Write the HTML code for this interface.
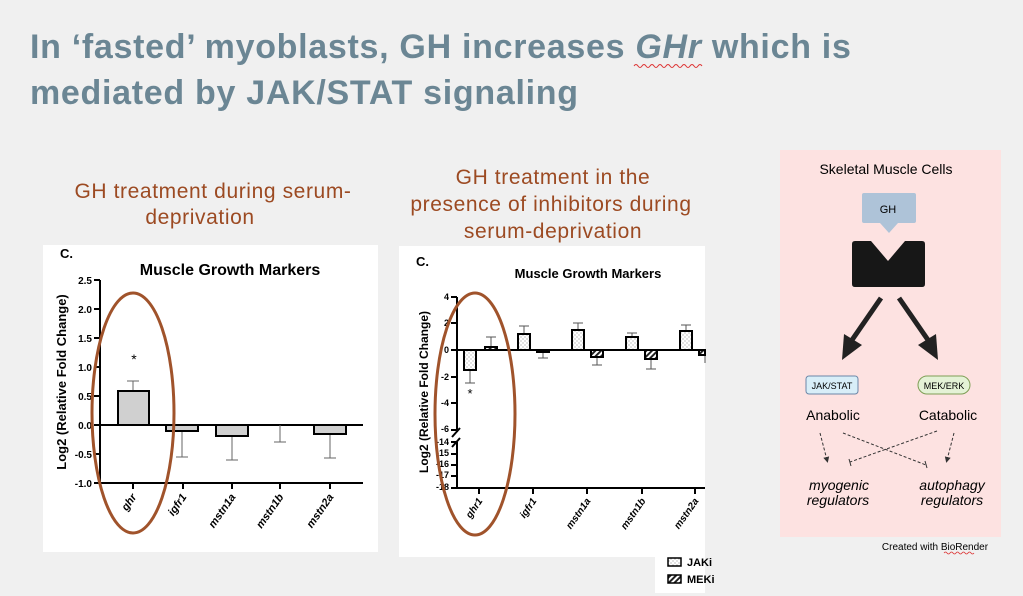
<!DOCTYPE html>
<html><head><meta charset="utf-8"><style>
html,body{margin:0;padding:0;background:#f0f0f0;}
svg{display:block;font-family:"Liberation Sans",Arial,sans-serif;}
</style></head><body>
<svg width="1023" height="596" viewBox="0 0 1023 596" xmlns="http://www.w3.org/2000/svg">
<defs>
<pattern id="dots" width="4" height="4" patternUnits="userSpaceOnUse"><rect width="4" height="4" fill="#fff"/><circle cx="1" cy="1" r="0.6" fill="#999"/><circle cx="3" cy="3" r="0.6" fill="#999"/></pattern>
<pattern id="hatch" width="4" height="4" patternUnits="userSpaceOnUse" patternTransform="rotate(45)"><rect width="4" height="4" fill="#fff"/><rect width="2" height="4" fill="#222"/></pattern>
<marker id="ah" markerWidth="6" markerHeight="6" refX="3" refY="3" orient="auto"><path d="M0,0 L6,3 L0,6 z" fill="#333"/></marker>
</defs>
<rect width="1023" height="596" fill="#f0f0f0"/>
<g fill="#6b8694" font-weight="bold" font-size="34" letter-spacing="0.7">
<text x="30" y="58">In ‘fasted’ myoblasts, GH increases <tspan font-style="italic">GHr</tspan> which is</text>
<text x="30" y="104">mediated by JAK/STAT signaling</text>
</g>
<path d="M634,66 q2,-3 4,0 t4,0 t4,0 t4,0 t4,0 t4,0 t4,0 t4,0 t4,0 t4,0 t4,0 t4,0 t4,0 t4,0 t4,0 t4,0 t4,0" stroke="#d33" fill="none" stroke-width="1"/>
<g fill="#9c4a22" font-size="21" letter-spacing="0.6" text-anchor="middle">
<text x="213" y="198">GH treatment during serum-</text>
<text x="200" y="224">deprivation</text>
<text x="553" y="184">GH treatment in the</text>
<text x="551" y="211">presence of inhibitors during</text>
<text x="553" y="238">serum-deprivation</text>
</g>
<!-- Chart 1 -->
<rect x="43" y="245" width="335" height="307" fill="#fff"/>
<text x="60" y="258" font-size="13" font-weight="bold">C.</text>
<text x="230" y="275" font-size="16" font-weight="bold" text-anchor="middle">Muscle Growth Markers</text>
<g stroke="#000" stroke-width="2">
<line x1="100" y1="280" x2="100" y2="484"/>
<line x1="100" y1="483" x2="363" y2="483"/>
<line x1="100" y1="425" x2="363" y2="425"/>
<line x1="94" y1="280" x2="100" y2="280"/><line x1="94" y1="309" x2="100" y2="309"/><line x1="94" y1="338" x2="100" y2="338"/><line x1="94" y1="367" x2="100" y2="367"/><line x1="94" y1="396" x2="100" y2="396"/><line x1="94" y1="425" x2="100" y2="425"/><line x1="94" y1="454" x2="100" y2="454"/><line x1="94" y1="483" x2="100" y2="483"/>
<line x1="133" y1="483" x2="133" y2="489"/><line x1="183" y1="483" x2="183" y2="489"/><line x1="232" y1="483" x2="232" y2="489"/><line x1="280" y1="483" x2="280" y2="489"/><line x1="330" y1="483" x2="330" y2="489"/>
</g>
<g font-size="10" font-weight="bold" text-anchor="end">
<text x="92" y="284">2.5</text><text x="92" y="313">2.0</text><text x="92" y="342">1.5</text><text x="92" y="371">1.0</text><text x="92" y="400">0.5</text><text x="92" y="429">0.0</text><text x="92" y="458">-0.5</text><text x="92" y="487">-1.0</text>
</g>
<text transform="translate(66,382) rotate(-90)" font-size="13" font-weight="bold" text-anchor="middle">Log2 (Relative Fold Change)</text>
<g stroke="#666" stroke-width="1">
<line x1="133" y1="391" x2="133" y2="381"/><line x1="127" y1="381" x2="139" y2="381"/>
<line x1="182" y1="425" x2="182" y2="457"/><line x1="176" y1="457" x2="188" y2="457"/>
<line x1="232" y1="425" x2="232" y2="460"/><line x1="226" y1="460" x2="238" y2="460"/>
<line x1="280" y1="425" x2="280" y2="442"/><line x1="274" y1="442" x2="286" y2="442"/>
<line x1="330" y1="425" x2="330" y2="458"/><line x1="324" y1="458" x2="336" y2="458"/>
</g>
<g fill="#d0d0d0" stroke="#000" stroke-width="2">
<rect x="118" y="391" width="31" height="34"/>
<rect x="166" y="425" width="32" height="6"/>
<rect x="216" y="425" width="32" height="11"/>
<rect x="314" y="425" width="32" height="9"/>
</g>
<text x="134" y="364" font-size="14" text-anchor="middle">*</text>
<g font-size="11" font-weight="bold" font-style="italic" text-anchor="end">
<text transform="translate(137,497) rotate(-55)">ghr</text>
<text transform="translate(187,497) rotate(-55)">igfr1</text>
<text transform="translate(236,497) rotate(-55)">mstn1a</text>
<text transform="translate(284,497) rotate(-55)">mstn1b</text>
<text transform="translate(334,497) rotate(-55)">mstn2a</text>
</g>
<ellipse cx="133" cy="413" rx="41" ry="120" fill="none" stroke="#a0532b" stroke-width="3"/>
<!-- Chart 2 -->
<rect x="399" y="246" width="306" height="311" fill="#fff"/>
<rect x="655" y="553" width="50" height="40" fill="#fff"/>
<text x="416" y="266" font-size="13" font-weight="bold">C.</text>
<text x="588" y="278" font-size="13" font-weight="bold" text-anchor="middle">Muscle Growth Markers</text>
<g stroke="#000" stroke-width="2">
<line x1="457" y1="297" x2="457" y2="432"/>
<line x1="457" y1="442" x2="457" y2="489"/>
<line x1="457" y1="488" x2="705" y2="488"/>
<line x1="457" y1="350" x2="705" y2="350"/>
<line x1="451" y1="297" x2="457" y2="297"/><line x1="451" y1="323" x2="457" y2="323"/><line x1="451" y1="350" x2="457" y2="350"/><line x1="451" y1="377" x2="457" y2="377"/><line x1="451" y1="403" x2="457" y2="403"/><line x1="451" y1="430" x2="457" y2="430"/>
<line x1="451" y1="442" x2="457" y2="442"/><line x1="451" y1="454" x2="457" y2="454"/><line x1="451" y1="465" x2="457" y2="465"/><line x1="451" y1="476" x2="457" y2="476"/><line x1="451" y1="488" x2="457" y2="488"/>
<line x1="452" y1="437" x2="460" y2="428"/><line x1="452" y1="447" x2="460" y2="438"/>
<line x1="479" y1="488" x2="479" y2="494"/><line x1="533" y1="488" x2="533" y2="494"/><line x1="587" y1="488" x2="587" y2="494"/><line x1="642" y1="488" x2="642" y2="494"/><line x1="695" y1="488" x2="695" y2="494"/>
</g>
<g font-size="9" font-weight="bold" text-anchor="end">
<text x="449" y="300">4</text><text x="449" y="326">2</text><text x="449" y="353">0</text><text x="449" y="380">-2</text><text x="449" y="406">-4</text><text x="449" y="432">-6</text>
<text x="449" y="445">-14</text><text x="449" y="456">-15</text><text x="449" y="467">-16</text><text x="449" y="478">-17</text><text x="449" y="490">-18</text>
</g>
<text transform="translate(428,392) rotate(-90)" font-size="12" font-weight="bold" text-anchor="middle">Log2 (Relative Fold Change)</text>
<g stroke="#555" stroke-width="1">
<line x1="470" y1="370" x2="470" y2="383"/><line x1="465" y1="383" x2="475" y2="383"/>
<line x1="491" y1="347" x2="491" y2="337"/><line x1="486" y1="337" x2="496" y2="337"/>
<line x1="524" y1="334" x2="524" y2="326"/><line x1="519" y1="326" x2="529" y2="326"/>
<line x1="543" y1="351" x2="543" y2="358"/><line x1="538" y1="358" x2="548" y2="358"/>
<line x1="578" y1="330" x2="578" y2="323"/><line x1="573" y1="323" x2="583" y2="323"/>
<line x1="597" y1="357" x2="597" y2="365"/><line x1="592" y1="365" x2="602" y2="365"/>
<line x1="632" y1="337" x2="632" y2="333"/><line x1="627" y1="333" x2="637" y2="333"/>
<line x1="651" y1="359" x2="651" y2="369"/><line x1="646" y1="369" x2="656" y2="369"/>
<line x1="686" y1="331" x2="686" y2="325"/><line x1="681" y1="325" x2="691" y2="325"/>
<line x1="705" y1="355" x2="705" y2="363"/>
</g>
<g stroke="#000" stroke-width="2">
<rect x="464" y="350" width="12" height="20" fill="url(#dots)"/>
<rect x="485" y="347" width="12" height="3" fill="url(#hatch)"/>
<rect x="518" y="334" width="12" height="16" fill="url(#dots)"/>
<rect x="537" y="350" width="12" height="2" fill="url(#hatch)"/>
<rect x="572" y="330" width="12" height="20" fill="url(#dots)"/>
<rect x="591" y="350" width="12" height="7" fill="url(#hatch)"/>
<rect x="626" y="337" width="12" height="13" fill="url(#dots)"/>
<rect x="645" y="350" width="12" height="9" fill="url(#hatch)"/>
<rect x="680" y="331" width="12" height="19" fill="url(#dots)"/>
<rect x="699" y="350" width="6" height="5" fill="url(#hatch)"/>
</g>
<text x="470" y="398" font-size="13" text-anchor="middle">*</text>
<g font-size="10" font-weight="bold" font-style="italic" text-anchor="end">
<text transform="translate(483,501) rotate(-55)">ghr1</text>
<text transform="translate(537,501) rotate(-55)">igfr1</text>
<text transform="translate(591,501) rotate(-55)">mstn1a</text>
<text transform="translate(646,501) rotate(-55)">mstn1b</text>
<text transform="translate(699,501) rotate(-55)">mstn2a</text>
</g>
<rect x="668" y="558" width="13" height="8" fill="url(#dots)" stroke="#000" stroke-width="1.5"/>
<rect x="668" y="575" width="13" height="8" fill="url(#hatch)" stroke="#000" stroke-width="1.5"/>
<text x="687" y="566" font-size="11" font-weight="bold">JAKi</text>
<text x="687" y="583" font-size="11" font-weight="bold">MEKi</text>
<ellipse cx="475" cy="414" rx="40" ry="121" fill="none" stroke="#a0532b" stroke-width="3"/>
<!-- Diagram -->
<rect x="780" y="150" width="221" height="387" fill="#fde2e1"/>
<text x="886" y="174" font-size="14" text-anchor="middle">Skeletal Muscle Cells</text>
<path d="M862,193 h52 q2,0 2,2 v26 q0,2 -2,2 h-16 l-9,10 l-9,-10 h-16 q-2,0 -2,-2 v-26 q0,-2 2,-2z" fill="#aec3d8"/>
<text x="888" y="213" font-size="11" text-anchor="middle">GH</text>
<path d="M855,241 h16 l17,20 l17,-20 h17 q3,0 3,3 v40 q0,3 -3,3 h-67 q-3,0 -3,-3 v-40 q0,-3 3,-3z" fill="#171717"/>
<path d="M881,298 L852,340" stroke="#222" stroke-width="5"/>
<path d="M842,360 L844,334 L862,345z" fill="#222"/>
<path d="M899,298 L928,340" stroke="#222" stroke-width="5"/>
<path d="M938,360 L918,345 L936,334z" fill="#222"/>
<rect x="806" y="376" width="52" height="18" rx="3" fill="#d8eef8" stroke="#6b87a8"/>
<text x="832" y="389" font-size="9" text-anchor="middle">JAK/STAT</text>
<rect x="918" y="376" width="52" height="18" rx="9" fill="#e4f2d6" stroke="#7e9e55"/>
<text x="944" y="389" font-size="9" text-anchor="middle">MEK/ERK</text>
<text x="833" y="420" font-size="14" text-anchor="middle">Anabolic</text>
<text x="948" y="420" font-size="14" text-anchor="middle">Catabolic</text>
<g stroke="#333" stroke-width="1" stroke-dasharray="3,2" fill="none">
<line x1="820" y1="433" x2="827" y2="460" marker-end="url(#ah)"/>
<line x1="954" y1="433" x2="947" y2="460" marker-end="url(#ah)"/>
<line x1="843" y1="433" x2="926" y2="465"/>
<line x1="937" y1="431" x2="850" y2="462"/>
</g>
<line x1="925" y1="461" x2="927" y2="468" stroke="#333"/>
<line x1="849" y1="459" x2="851" y2="466" stroke="#333"/>
<g font-size="14" font-style="italic" text-anchor="middle">
<text x="839" y="490">myogenic</text><text x="838" y="505">regulators</text>
<text x="952" y="490">autophagy</text><text x="952" y="505">regulators</text>
</g>
<text x="935" y="550" font-size="10" text-anchor="middle">Created with BioRender</text>
<path d="M944,553 q1.5,-2 3,0 t3,0 t3,0 t3,0 t3,0 t3,0 t3,0 t3,0 t3,0 t3,0" stroke="#d33" fill="none" stroke-width="0.8"/>
</svg>
</body></html>
